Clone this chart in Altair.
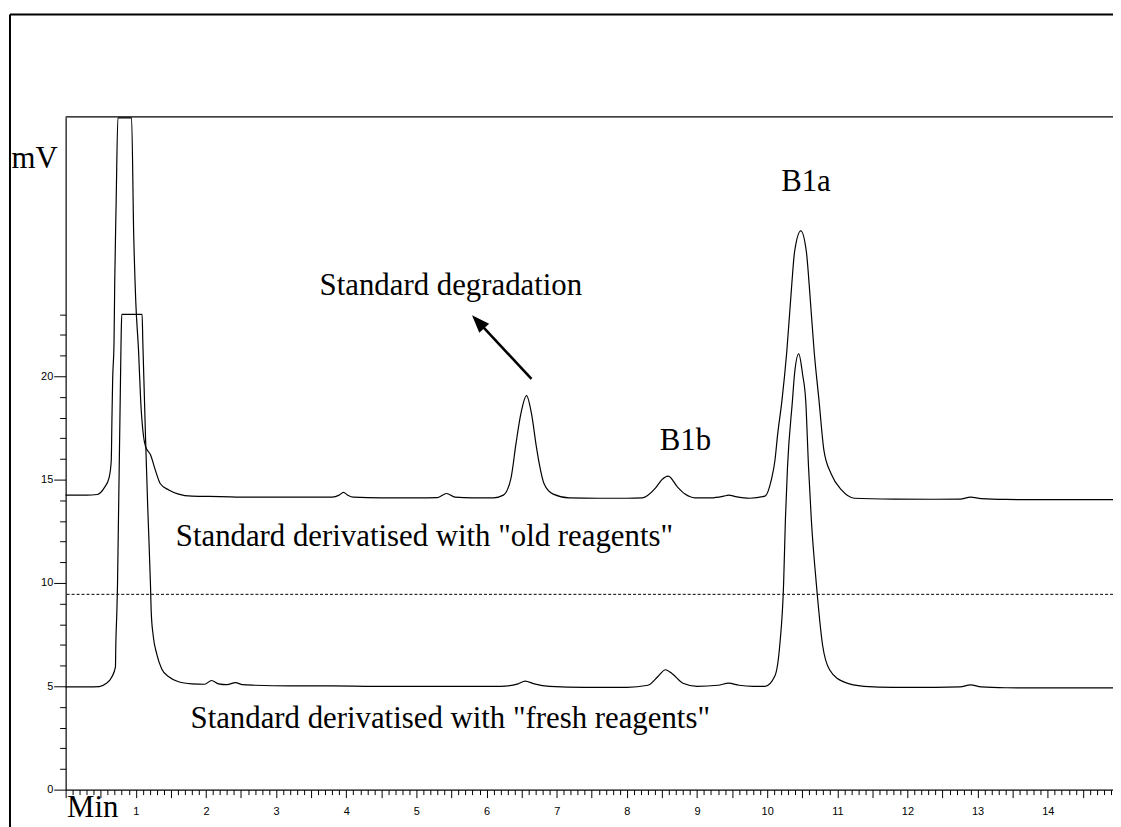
import altair as alt
import pandas as pd

# ---- data (time in min, signal in mV) ----
old_t = [0.0, 0.3, 0.45, 0.55, 0.62, 0.65, 0.66, 0.67, 0.69, 0.70, 0.72, 0.745, 0.94, 0.97, 1.0,
         1.04, 1.07, 1.11, 1.14, 1.21, 1.28, 1.35, 1.47, 1.61, 1.8, 2.2, 2.6, 3.0, 3.4, 3.8,
         3.9, 3.96, 4.02, 4.1, 4.5, 5.0, 5.3, 5.43, 5.55, 5.8, 6.1, 6.24, 6.35, 6.42, 6.49,
         6.57, 6.64, 6.71, 6.75, 6.82, 6.95, 7.18, 7.6, 8.0, 8.22, 8.41, 8.5, 8.59, 8.72, 8.83,
         8.97, 9.2, 9.38, 9.45, 9.55, 9.75, 9.97, 10.06, 10.11, 10.15, 10.21, 10.28, 10.35, 10.39, 10.48,
         10.56, 10.60, 10.67, 10.74, 10.81, 10.91, 11.06, 11.24, 11.81, 12.4, 12.75, 12.9, 13.05, 13.4, 14.0,
         14.5, 14.93]
old_mv = [14.25, 14.25, 14.28, 14.6, 15.1, 15.9, 17.9, 19.8, 21.7, 24.6, 28.4, 32.5, 32.5, 26.9, 23.6,
          21.2, 18.8, 17.1, 16.6, 16.2, 15.45, 14.8, 14.5, 14.3, 14.2, 14.18, 14.15, 14.15, 14.15, 14.15,
          14.25, 14.38, 14.25, 14.15, 14.12, 14.12, 14.13, 14.33, 14.15, 14.12, 14.12, 14.25, 15.1, 16.75, 18.2,
          19.06, 18.2, 16.6, 15.8, 14.8, 14.3, 14.12, 14.1, 14.1, 14.12, 14.6, 15.0, 15.17, 14.65, 14.3,
          14.12, 14.12, 14.2, 14.25, 14.18, 14.1, 14.2, 15.0, 15.9, 17.2, 18.8, 21.2, 24.4, 26.0, 27.04,
          26.0, 24.4, 21.2, 18.8, 16.4, 15.3, 14.5, 14.1, 14.06, 14.05, 14.06, 14.15, 14.08, 14.04, 14.03,
          14.03, 14.03]

fresh_t = [0.0, 0.3, 0.48, 0.57, 0.66, 0.71, 0.715, 0.73, 0.74, 0.79, 0.80, 1.09, 1.10, 1.14, 1.17,
           1.21, 1.22, 1.25, 1.30, 1.37, 1.47, 1.61, 1.8, 1.98, 2.08, 2.18, 2.3, 2.42, 2.52, 2.7,
           3.2, 3.8, 4.4, 5.0, 5.6, 6.2, 6.45, 6.55, 6.68, 6.9, 7.4, 8.0, 8.3, 8.45, 8.55,
           8.65, 8.8, 9.0, 9.3, 9.45, 9.6, 9.8, 9.97, 10.11, 10.18, 10.235, 10.26, 10.29, 10.36, 10.39,
           10.45, 10.505, 10.55, 10.59, 10.63, 10.70, 10.79, 10.89, 11.1, 11.38, 11.8, 12.4, 12.75, 12.9, 13.05,
           13.4, 14.0, 14.5, 14.93]
fresh_mv = [4.97, 4.97, 4.98, 5.12, 5.46, 5.94, 6.95, 8.6, 10.0, 21.7, 23.0, 23.0, 21.7, 16.9, 13.7,
            9.85, 8.6, 7.4, 6.55, 5.84, 5.46, 5.22, 5.12, 5.1, 5.28, 5.12, 5.08, 5.18, 5.08, 5.05,
            5.02, 5.02, 5.0, 5.0, 5.0, 5.0, 5.12, 5.25, 5.12, 5.0, 4.95, 4.95, 5.05, 5.5, 5.8,
            5.6, 5.15, 5.0, 5.05, 5.15, 5.05, 5.0, 5.0, 5.5, 7.0, 10.0, 13.05, 15.6, 18.8, 20.1,
            21.08, 20.1, 18.8, 15.6, 13.05, 10.0, 7.0, 5.8, 5.2, 5.0, 4.95, 4.95, 4.97, 5.07, 4.97,
            4.93, 4.92, 4.92, 4.92]

dashed_mv = [9.45]

label_text = ["mV", "Min", "Standard degradation", "B1b", "B1a",
              'Standard derivatised with "old reagents"',
              'Standard derivatised with "fresh reagents"']
label_t = [-0.77, 0.02, 3.62, 8.47, 10.2, 1.57, 1.78]
label_mv = [30.1, -1.3, 23.95, 16.45, 28.95, 11.8, 3.0]

arrow_t = [6.64]
arrow_mv = [19.88]
arrow_t2 = [5.88]
arrow_mv2 = [22.64]

X_MAX = 14.93
Y_MAX = 32.55
W = 1054
H = 677

traces = pd.concat([
    pd.DataFrame({"t": old_t, "mv": old_mv, "series": "old"}),
    pd.DataFrame({"t": fresh_t, "mv": fresh_mv, "series": "fresh"}),
])
labels = pd.DataFrame({"t": label_t, "mv": label_mv, "text": label_text})
arrow = pd.DataFrame({"t": arrow_t, "mv": arrow_mv, "t2": arrow_t2, "mv2": arrow_mv2})
dash = pd.DataFrame({"t": [0.0], "mv": dashed_mv})
one = pd.DataFrame({"t": [0.0], "mv": [0.0]})

x_scale = alt.Scale(domain=[0, X_MAX], nice=False, zero=False)
y_scale = alt.Scale(domain=[0, Y_MAX], nice=False, zero=False)

x_ticks = [round(i * 0.1, 1) for i in range(150)]
y_ticks = list(range(24))

x_axis = alt.Axis(
    values=x_ticks, title=None, grid=False,
    domainColor="black", tickColor="black", domainWidth=1.2, tickWidth=1,
    tickSize={"condition": {"test": "abs(datum.value*2 - round(datum.value*2)) < 0.01", "value": 8}, "value": 5},
    labelExpr="(abs(datum.value - round(datum.value)) < 0.01 && datum.value > 0.5) ? format(round(datum.value), 'd') : ''",
    labelFont="Liberation Sans", labelFontSize=11, labelColor="black",
    labelPadding=8, labelOverlap=False, labelFlush=False, tickCount=150,
)
y_axis = alt.Axis(
    values=y_ticks, title=None, grid=False,
    domainColor="black", tickColor="black", domainWidth=1.2, tickWidth=1,
    tickSize={"condition": {"test": "datum.value % 5 === 0", "value": 12}, "value": 6},
    labelExpr="datum.value % 5 === 0 ? datum.label : ''",
    labelFont="Liberation Sans", labelFontSize=11, labelColor="black",
    labelPadding=1, labelOverlap=False, labelFlush=False, tickCount=24,
)


def X(field):
    return alt.X(field, type="quantitative", scale=x_scale, axis=x_axis, title=None)


def Y(field):
    return alt.Y(field, type="quantitative", scale=y_scale, axis=y_axis, title=None)


lines = alt.Chart(traces).mark_line(color="black", strokeWidth=1.2, interpolate="monotone").encode(
    x=X("t"), y=Y("mv"), detail="series:N",
)

dashed = alt.Chart(dash).mark_rule(color="black", strokeWidth=1, strokeDash=[3, 2]).encode(
    y=Y("mv")
)

texts = alt.Chart(labels).mark_text(
    align="left", baseline="alphabetic", font="Liberation Serif", fontSize=31, color="black"
).encode(
    x=X("t"), y=Y("mv"), text="text:N"
)

arrow_line = alt.Chart(arrow).mark_rule(color="black", strokeWidth=2.6).encode(
    x=X("t"), y=Y("mv"), x2="t2:Q", y2="mv2:Q",
)
arrow_head = alt.Chart(arrow).mark_point(
    shape="M0,-1L0.75,1L-0.75,1Z", size=324, filled=True, color="black", opacity=1,
    strokeWidth=0, angle=317
).encode(
    x=X("t2"), y=Y("mv2"),
)

inner_top = alt.Chart(one).mark_rule(color="black", strokeWidth=1.2).encode(
    x=alt.value(0), x2=alt.value(W), y=alt.value(0)
)
outer_top = alt.Chart(one).mark_rule(color="black", strokeWidth=2).encode(
    x=alt.value(-56), x2=alt.value(W + 10), y=alt.value(-103)
)
outer_left = alt.Chart(one).mark_rule(color="black", strokeWidth=2).encode(
    x=alt.value(-56), y=alt.value(-103), y2=alt.value(H + 40)
)

chart = alt.layer(
    lines, dashed, texts, arrow_line, arrow_head, inner_top, outer_top, outer_left
).properties(
    width=W, height=H,
    padding={"left": 58, "top": 107, "right": 0, "bottom": 35},
    autosize=alt.AutoSizeParams(type="none"),
    background="white",
).configure_view(stroke="transparent")

chart.save("out.html", embed_options={"renderer": "svg", "actions": False})
